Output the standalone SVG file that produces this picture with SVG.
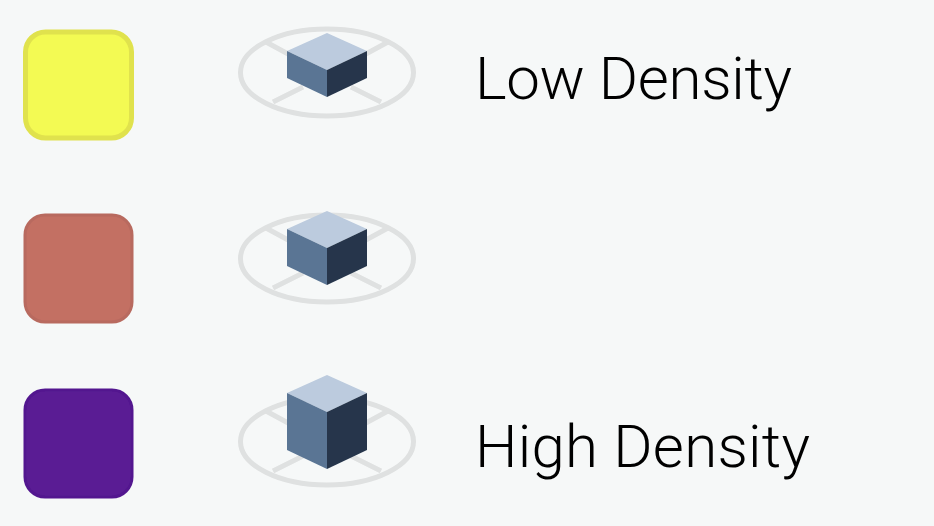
<svg xmlns="http://www.w3.org/2000/svg" width="934" height="526" viewBox="0 0 934 526">
<defs>
<style>
.ring{fill:none;stroke:#dfe1e1;stroke-width:5}
.top{fill:#bccbde}.left{fill:#5a7594}.right{fill:#25364b}
.art{filter:url(#soft)}
text{font-family:Roboto,"Liberation Sans",sans-serif;font-weight:300;font-size:60px;fill:#000}
</style>
<filter id="soft" x="-10%" y="-10%" width="120%" height="120%"><feGaussianBlur stdDeviation="0.7"/></filter>
<g id="base"><ellipse class="ring" cx="327" cy="72.500" rx="86.500" ry="43.500"/><path class="ring" d="M266 42L290 55M388 42L364 55M273 102L303 87M381 102L351 87"/></g>
</defs>
<rect width="934" height="526" fill="#f6f8f8"/>
<g id="swatch-low" class="art"><rect x="25.500" y="32" width="106" height="106" rx="20" fill="#f3fa52" stroke="#e0e24e" stroke-width="5"/></g>
<g id="swatch-mid" class="art"><rect x="25" y="215" width="107" height="107" rx="20" fill="#c36f63" stroke="#b86a5f" stroke-width="3"/></g>
<g id="swatch-high" class="art"><rect x="25" y="390" width="107" height="107" rx="20" fill="#5a1c94" stroke="#52188f" stroke-width="3"/></g>
<g id="cube-low" class="art"><use href="#base"/><path class="top" d="M327 33L367 51L327 70L287 51Z"/><path class="left" d="M287 51L327 70V97L287 78Z"/><path class="right" d="M367 51L327 70V97L367 78Z"/></g>
<g id="cube-mid" class="art"><use href="#base" y="186"/><path class="top" d="M327 211L367 229L327 248L287 229Z"/><path class="left" d="M287 229L327 248V285L287 266Z"/><path class="right" d="M367 229L327 248V285L367 266Z"/></g>
<g id="cube-high" class="art"><use href="#base" y="369"/><path class="top" d="M327 375L367 393L327 412L287 393Z"/><path class="left" d="M287 393L327 412V469L287 450Z"/><path class="right" d="M367 393L327 412V469L367 450Z"/></g>
<text id="label-low" x="475" y="99" textLength="317">Low Density</text>
<text id="label-high" x="475" y="467" textLength="335">High Density</text>
</svg>
